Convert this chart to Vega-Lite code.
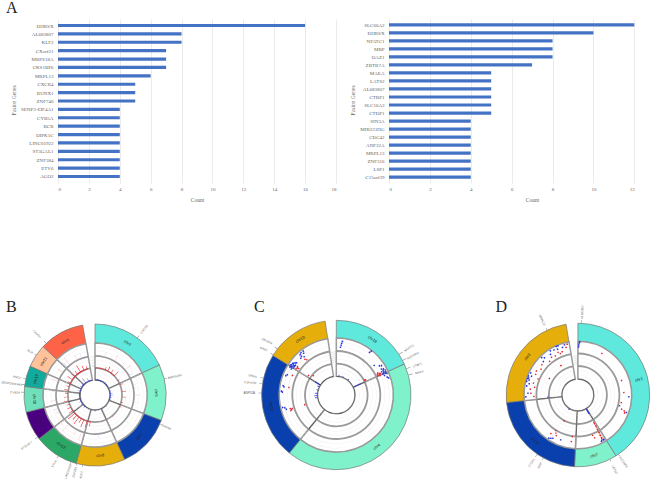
{
"$schema":"https://vega.github.io/schema/vega-lite/v6.json",
"padding":0,
"background":"white",
"config":{"view":{"stroke":null},"font":"Liberation Serif","title":{"font":"Liberation Serif","fontSize":16,"fontWeight":"normal","color":"#222222","anchor":"start"},
"axisX":{"grid":true,"gridColor":"#E6E6E6","gridWidth":0.8,"domain":false,"ticks":false,"labelFont":"Liberation Serif","labelFontSize":5,"labelColor":"#666666","labelPadding":3,"titleFont":"Liberation Serif","titleFontSize":5.5,"titleColor":"#666666","titleFontWeight":"normal","tickCount":10},
"axisY":{"grid":false,"domain":false,"ticks":false,"labelFont":"Liberation Serif","labelFontSize":5,"labelColor":"#666666","labelPadding":5,"titleFont":"Liberation Serif","titleFontSize":5.5,"titleColor":"#666666","titleFontWeight":"normal"}},
"datasets":{
"left":[{"gene":"DHRSX","count":16},{"gene":"AL683807","count":8},{"gene":"KLF2","count":8},{"gene":"CXorf21","count":7},{"gene":"MRPS18A","count":7},{"gene":"CKS1BP6","count":7},{"gene":"MRPL13","count":6},{"gene":"CXCR4","count":5},{"gene":"RUNX1","count":5},{"gene":"ZNF740","count":5},{"gene":"SENP3-EIF4A1","count":4},{"gene":"CYB5A","count":4},{"gene":"BCR","count":4},{"gene":"DIPK1C","count":4},{"gene":"LINC01922","count":4},{"gene":"ST3GAL1","count":4},{"gene":"ZNF384","count":4},{"gene":"ETV6","count":4},{"gene":"AGO2","count":4}],
"right":[{"gene":"SLC66A2","count":12},{"gene":"DHRSX","count":10},{"gene":"NFATC1","count":8},{"gene":"MBP","count":8},{"gene":"OAZ1","count":8},{"gene":"ZBTB7A","count":7},{"gene":"MAEA","count":5},{"gene":"LATS2","count":5},{"gene":"AL683807","count":5},{"gene":"CTBP1","count":5},{"gene":"SLC16A3","count":5},{"gene":"CTDP1","count":5},{"gene":"SIN3A","count":4},{"gene":"MIR223HG","count":4},{"gene":"CDC42","count":4},{"gene":"ANP32A","count":4},{"gene":"MRPL13","count":4},{"gene":"ZNF316","count":4},{"gene":"LSP1","count":4},{"gene":"C15orf39","count":4}],
"bS":[{"chr":"chr2","a0":0,"a1":65},{"chr":"chr5","a0":65,"a1":111},{"chr":"chr7","a0":111,"a1":155.4},{"chr":"chr8","a0":155.4,"a1":195.4},{"chr":"chr12","a0":195.4,"a1":232},{"chr":"chr17","a0":232,"a1":256},{"chr":"chr18","a0":256,"a1":277},{"chr":"chr19","a0":277,"a1":294},{"chr":"chr21","a0":294,"a1":313},{"chr":"chrX","a0":313,"a1":350}],
"cS":[{"chr":"chr18","a0":0,"a1":65.6},{"chr":"chr4","a0":65.6,"a1":219},{"chr":"chr15","a0":219,"a1":302},{"chr":"chr19","a0":302,"a1":351.4}],
"dS":[{"chr":"chr1","a0":0,"a1":148},{"chr":"chr7","a0":148,"a1":182.7},{"chr":"chr12","a0":182.7,"a1":264},{"chr":"chr8","a0":264,"a1":350.5}],
"bL":[{"label":"chr2","a":32,"r":61,"rot":32,"kind":"chr"},{"label":"chr5","a":88,"r":61,"rot":88,"kind":"chr"},{"label":"chr7","a":133,"r":61,"rot":-47,"kind":"chr"},{"label":"chr8","a":175,"r":61,"rot":-5,"kind":"chr"},{"label":"chr12","a":214,"r":61,"rot":34,"kind":"chr"},{"label":"chr17","a":244,"r":61,"rot":64,"kind":"chr"},{"label":"chr18","a":266,"r":61,"rot":86,"kind":"chr"},{"label":"chr19","a":285,"r":61,"rot":-75,"kind":"chr"},{"label":"chr21","a":303,"r":61,"rot":-57,"kind":"chr"},{"label":"chrX","a":331,"r":61,"rot":-29,"kind":"chr"},
{"label":"CXCR4","a":36.6,"r":82,"rot":-53,"kind":"gene"},{"label":"MRPS18A","a":76.8,"r":82,"rot":-13,"kind":"gene"},{"label":"DHRSX","a":114,"r":78,"rot":24,"kind":"gene"},{"label":"ETV6","a":211,"r":80,"rot":-59,"kind":"gene"},{"label":"LINC01922","a":199.6,"r":81,"rot":-70,"kind":"gene"},{"label":"ZNF384","a":195,"r":80,"rot":-75,"kind":"gene"},{"label":"KLF2","a":190,"r":81,"rot":-80,"kind":"gene"},{"label":"ST3GAL1","a":233.8,"r":85,"rot":-36,"kind":"gene"},{"label":"CYB5A","a":272,"r":80,"rot":2,"kind":"gene"},{"label":"SENP3-EIF4A1","a":278,"r":84,"rot":8,"kind":"gene"},{"label":"AGO2","a":283,"r":80,"rot":13,"kind":"gene"},{"label":"BCR","a":304,"r":78,"rot":34,"kind":"gene"},{"label":"CXorf21","a":316.6,"r":84,"rot":46,"kind":"gene"}],
"cL":[{"label":"chr18","a":33,"r":66,"rot":33,"kind":"chr"},{"label":"chr4","a":142,"r":66,"rot":-38,"kind":"chr"},{"label":"chr15","a":260,"r":66,"rot":80,"kind":"chr"},{"label":"chr19","a":327,"r":66,"rot":-33,"kind":"chr"},
{"label":"NFATC1","a":57,"r":86.7,"rot":-33,"kind":"gene"},{"label":"SLC66A2","a":62.5,"r":86,"rot":-28,"kind":"gene"},{"label":"CTBP1","a":69.5,"r":86.5,"rot":-20,"kind":"gene"},{"label":"MAEA","a":74.5,"r":86,"rot":-15,"kind":"gene"},{"label":"SIN3A","a":283,"r":86,"rot":13,"kind":"gene"},{"label":"C15orf39","a":278.4,"r":87,"rot":5,"kind":"gene"},{"label":"ANP32A","a":271.5,"r":87,"rot":0,"kind":"gene"},{"label":"OAZ1","a":302.6,"r":86,"rot":22,"kind":"gene"},{"label":"ZBTB7A","a":308,"r":87.6,"rot":25,"kind":"gene"}],
"dL":[{"label":"chr1","a":76,"r":63,"rot":-14,"kind":"chr"},{"label":"chr7","a":165,"r":63,"rot":-15,"kind":"chr"},{"label":"chr12","a":223,"r":63,"rot":43,"kind":"chr"},{"label":"chr8","a":307,"r":63,"rot":-53,"kind":"chr"},
{"label":"AL683807","a":2.8,"r":83,"rot":-87,"kind":"gene"},{"label":"MRPL13","a":334.6,"r":83,"rot":65,"kind":"gene"},{"label":"SLC16A3","a":145.6,"r":81,"rot":56,"kind":"gene"},{"label":"LATS2","a":153.6,"r":83,"rot":64,"kind":"gene"},{"label":"CTDP1","a":214.5,"r":82,"rot":-55,"kind":"gene"},{"label":"MBP","a":208.7,"r":80,"rot":-61,"kind":"gene"}],
"bT":[{"a0":0,"a1":350,"r0":26.2,"r1":27.9,"t":"ring"},{"a0":0,"a1":350,"r0":38.2,"r1":39.9,"t":"ring"},{"a0":0,"a1":350,"r0":14.8,"r1":15.2,"t":"divider"},
{"a0":0,"a1":350,"r0":19,"r1":19.25,"t":"grid"},{"a0":0,"a1":350,"r0":23,"r1":23.25,"t":"grid"},{"a0":0,"a1":350,"r0":31,"r1":31.25,"t":"grid"},{"a0":0,"a1":350,"r0":35,"r1":35.25,"t":"grid"},{"a0":0,"a1":350,"r0":44,"r1":44.25,"t":"grid"},{"a0":0,"a1":350,"r0":48,"r1":48.25,"t":"grid"},
{"a0":0,"a1":0.7,"r0":15,"r1":27,"t":"divider"},{"a0":64.6,"a1":65.4,"r0":15,"r1":28,"t":"divider"},{"a0":110.6,"a1":111.4,"r0":15,"r1":28,"t":"divider"},{"a0":155,"a1":155.8,"r0":15,"r1":28,"t":"divider"},{"a0":195,"a1":195.8,"r0":15,"r1":28,"t":"divider"},{"a0":231.6,"a1":232.4,"r0":15,"r1":28,"t":"divider"},{"a0":255.6,"a1":256.4,"r0":15,"r1":28,"t":"divider"},{"a0":276.6,"a1":277.4,"r0":15,"r1":28,"t":"divider"},{"a0":293.6,"a1":294.4,"r0":15,"r1":28,"t":"divider"},{"a0":312.6,"a1":313.4,"r0":15,"r1":28,"t":"divider"},
{"a0":354,"a1":360,"r0":29,"r1":29.3,"t":"ring"},{"a0":354,"a1":360,"r0":32,"r1":32.3,"t":"ring"},{"a0":354,"a1":360,"r0":35,"r1":35.3,"t":"ring"},{"a0":354,"a1":360,"r0":38,"r1":38.3,"t":"ring"},
{"a0":0,"a1":45,"r0":27,"r1":27.6,"t":"gain"},{"a0":190,"a1":240,"r0":27,"r1":27.6,"t":"gain"},{"a0":290,"a1":345,"r0":27,"r1":27.6,"t":"gain"},
{"a0":0,"a1":60,"r0":15.2,"r1":15.7,"t":"loss"},{"a0":75,"a1":110,"r0":15.2,"r1":15.7,"t":"loss"},{"a0":220,"a1":345,"r0":15.2,"r1":15.7,"t":"loss"}],
"bH":[
{"a0":7.5,"a1":8.5,"r0":15,"r1":16.5,"t":"loss"},{"a0":19.5,"a1":20.5,"r0":15,"r1":16,"t":"loss"},{"a0":39.5,"a1":40.5,"r0":15,"r1":16.5,"t":"loss"},{"a0":54.5,"a1":55.5,"r0":15,"r1":16,"t":"loss"},{"a0":74.5,"a1":75.5,"r0":15,"r1":17,"t":"loss"},{"a0":84.5,"a1":85.5,"r0":15,"r1":17.5,"t":"loss"},{"a0":91.5,"a1":92.5,"r0":15,"r1":18,"t":"loss"},{"a0":99.5,"a1":100.5,"r0":15,"r1":17,"t":"loss"},{"a0":106.5,"a1":107.5,"r0":15,"r1":16.5,"t":"loss"},{"a0":119.5,"a1":120.5,"r0":15,"r1":16,"t":"loss"},{"a0":134.5,"a1":135.5,"r0":15,"r1":16.5,"t":"loss"},{"a0":149.5,"a1":150.5,"r0":15,"r1":16,"t":"loss"},{"a0":167.5,"a1":168.5,"r0":15,"r1":16,"t":"loss"},{"a0":179.5,"a1":180.5,"r0":15,"r1":17,"t":"loss"},{"a0":191.5,"a1":192.5,"r0":15,"r1":16,"t":"loss"},{"a0":204.5,"a1":205.5,"r0":15,"r1":16.5,"t":"loss"},{"a0":221.5,"a1":222.5,"r0":15,"r1":17,"t":"loss"},{"a0":234.5,"a1":235.5,"r0":15,"r1":16.5,"t":"loss"},{"a0":244.5,"a1":245.5,"r0":15,"r1":17.5,"t":"loss"},{"a0":257.5,"a1":258.5,"r0":15,"r1":17,"t":"loss"},{"a0":269.5,"a1":270.5,"r0":15,"r1":16.5,"t":"loss"},{"a0":284.5,"a1":285.5,"r0":15,"r1":18,"t":"loss"},{"a0":299.5,"a1":300.5,"r0":15,"r1":17,"t":"loss"},{"a0":309.5,"a1":310.5,"r0":15,"r1":17.5,"t":"loss"},{"a0":322,"a1":323,"r0":15,"r1":21,"t":"loss"},{"a0":334.5,"a1":335.5,"r0":15,"r1":18,"t":"loss"},
{"a0":11.5,"a1":12.5,"r0":27,"r1":28,"t":"gain"},{"a0":21.5,"a1":22.5,"r0":27,"r1":30,"t":"gain"},{"a0":27.5,"a1":28.5,"r0":27,"r1":32,"t":"gain"},{"a0":35.5,"a1":36.5,"r0":27,"r1":31,"t":"gain"},{"a0":44.5,"a1":45.5,"r0":27,"r1":33,"t":"gain"},{"a0":57.5,"a1":58.5,"r0":27,"r1":29,"t":"gain"},{"a0":67.5,"a1":68.5,"r0":27,"r1":30,"t":"gain"},{"a0":82.5,"a1":83.5,"r0":27,"r1":31,"t":"gain"},{"a0":93.5,"a1":94.5,"r0":27,"r1":31,"t":"gain"},{"a0":104.5,"a1":105.5,"r0":27,"r1":29,"t":"gain"},{"a0":114.5,"a1":115.5,"r0":27,"r1":29,"t":"gain"},{"a0":139.5,"a1":140.5,"r0":27,"r1":28,"t":"gain"},{"a0":164.5,"a1":165.5,"r0":27,"r1":28,"t":"gain"},{"a0":189.5,"a1":190.5,"r0":27,"r1":32,"t":"gain"},{"a0":196.5,"a1":197.5,"r0":27,"r1":34,"t":"gain"},{"a0":203.5,"a1":204.5,"r0":27,"r1":35,"t":"gain"},{"a0":209.5,"a1":210.5,"r0":27,"r1":32,"t":"gain"},{"a0":215.5,"a1":216.5,"r0":27,"r1":36,"t":"gain"},{"a0":221.5,"a1":222.5,"r0":27,"r1":33,"t":"gain"},{"a0":227.5,"a1":228.5,"r0":27,"r1":36,"t":"gain"},{"a0":234.5,"a1":235.5,"r0":27,"r1":32,"t":"gain"},{"a0":242.5,"a1":243.5,"r0":27,"r1":31,"t":"gain"},{"a0":249.5,"a1":250.5,"r0":27,"r1":30,"t":"gain"},{"a0":257.5,"a1":258.5,"r0":27,"r1":32,"t":"gain"},{"a0":265.5,"a1":266.5,"r0":27,"r1":31,"t":"gain"},{"a0":272.5,"a1":273.5,"r0":27,"r1":30,"t":"gain"},{"a0":279.5,"a1":280.5,"r0":27,"r1":31,"t":"gain"},{"a0":287.5,"a1":288.5,"r0":27,"r1":30,"t":"gain"},{"a0":295.5,"a1":296.5,"r0":27,"r1":30,"t":"gain"},{"a0":303.5,"a1":304.5,"r0":27,"r1":33,"t":"gain"},{"a0":311.5,"a1":312.5,"r0":27,"r1":32,"t":"gain"},{"a0":319.5,"a1":320.5,"r0":27,"r1":31,"t":"gain"},{"a0":327.5,"a1":328.5,"r0":27,"r1":35,"t":"gain"},{"a0":335.5,"a1":336.5,"r0":27,"r1":32,"t":"gain"},{"a0":342.5,"a1":343.5,"r0":27,"r1":30,"t":"gain"},
{"a0":29.7,"a1":30.3,"r0":39.6,"r1":46,"t":"faintGain"},{"a0":41.7,"a1":42.3,"r0":39.6,"r1":44,"t":"faintGain"},{"a0":49.7,"a1":50.3,"r0":39.6,"r1":47,"t":"faintGain"},{"a0":74.7,"a1":75.3,"r0":39.6,"r1":43,"t":"faintGain"},{"a0":89.7,"a1":90.3,"r0":39.6,"r1":45,"t":"faintGain"},{"a0":99.7,"a1":100.3,"r0":39.6,"r1":44,"t":"faintGain"},{"a0":199.7,"a1":200.3,"r0":39.6,"r1":48,"t":"faintGain"},{"a0":207.7,"a1":208.3,"r0":39.6,"r1":45,"t":"faintGain"},{"a0":221.7,"a1":222.3,"r0":39.6,"r1":49,"t":"faintGain"},{"a0":229.7,"a1":230.3,"r0":39.6,"r1":46,"t":"faintGain"},{"a0":244.7,"a1":245.3,"r0":39.6,"r1":43,"t":"faintGain"},{"a0":261.7,"a1":262.3,"r0":39.6,"r1":45,"t":"faintGain"},{"a0":274.7,"a1":275.3,"r0":39.6,"r1":43,"t":"faintGain"},{"a0":289.7,"a1":290.3,"r0":39.6,"r1":47,"t":"faintGain"},{"a0":304.7,"a1":305.3,"r0":39.6,"r1":45,"t":"faintGain"},{"a0":319.7,"a1":320.3,"r0":39.6,"r1":48,"t":"faintGain"},{"a0":332.7,"a1":333.3,"r0":39.6,"r1":45,"t":"faintGain"},
{"a0":14.7,"a1":15.3,"r0":39.6,"r1":44,"t":"faintLoss"},{"a0":59.7,"a1":60.3,"r0":39.6,"r1":43,"t":"faintLoss"},{"a0":79.7,"a1":80.3,"r0":39.6,"r1":44,"t":"faintLoss"},{"a0":129.7,"a1":130.3,"r0":39.6,"r1":43,"t":"faintLoss"},{"a0":174.7,"a1":175.3,"r0":39.6,"r1":43,"t":"faintLoss"},{"a0":249.7,"a1":250.3,"r0":39.6,"r1":44,"t":"faintLoss"},{"a0":314.7,"a1":315.3,"r0":39.6,"r1":46,"t":"faintLoss"},{"a0":339.7,"a1":340.3,"r0":39.6,"r1":44,"t":"faintLoss"},
{"a0":36.4,"a1":36.8,"r0":71,"r1":74,"t":"connector"},{"a0":76.6,"a1":77,"r0":71,"r1":74,"t":"connector"},{"a0":113.8,"a1":114.2,"r0":71,"r1":73,"t":"connector"},{"a0":210.8,"a1":211.2,"r0":71,"r1":74,"t":"connector"},{"a0":199.4,"a1":199.8,"r0":71,"r1":74,"t":"connector"},{"a0":194.8,"a1":195.2,"r0":71,"r1":73,"t":"connector"},{"a0":189.8,"a1":190.2,"r0":71,"r1":73,"t":"connector"},{"a0":233.6,"a1":234,"r0":71,"r1":74,"t":"connector"},{"a0":272,"a1":272.5,"r0":71,"r1":74,"t":"connector"},{"a0":278,"a1":278.5,"r0":71,"r1":74,"t":"connector"},{"a0":283,"a1":283.5,"r0":71,"r1":74,"t":"connector"},{"a0":304,"a1":304.4,"r0":71,"r1":73,"t":"connector"},{"a0":316.4,"a1":316.8,"r0":71,"r1":74,"t":"connector"}],
"cT":[{"a0":0,"a1":351.4,"r0":30.4,"r1":32.2,"t":"ring"},{"a0":0,"a1":351.4,"r0":43.1,"r1":44.9,"t":"ring"},{"a0":0,"a1":351.4,"r0":18.5,"r1":18.9,"t":"divider"},
{"a0":0,"a1":351.4,"r0":23,"r1":23.25,"t":"grid"},{"a0":0,"a1":351.4,"r0":27,"r1":27.25,"t":"grid"},{"a0":0,"a1":351.4,"r0":36,"r1":36.25,"t":"grid"},{"a0":0,"a1":351.4,"r0":40,"r1":40.25,"t":"grid"},{"a0":0,"a1":351.4,"r0":48.5,"r1":48.75,"t":"grid"},{"a0":0,"a1":351.4,"r0":53,"r1":53.25,"t":"grid"},
{"a0":65.2,"a1":66,"r0":18.7,"r1":32,"t":"divider"},{"a0":218.6,"a1":219.4,"r0":18.7,"r1":44,"t":"divider"},{"a0":301.6,"a1":302.4,"r0":18.7,"r1":32,"t":"divider"},
{"a0":353,"a1":360,"r0":33,"r1":33.3,"t":"ring"},{"a0":353,"a1":360,"r0":35,"r1":35.3,"t":"ring"},{"a0":353,"a1":360,"r0":37,"r1":37.3,"t":"ring"},{"a0":353,"a1":360,"r0":39,"r1":39.3,"t":"ring"},{"a0":353,"a1":360,"r0":41,"r1":41.3,"t":"ring"},{"a0":353,"a1":360,"r0":43,"r1":43.3,"t":"ring"},
{"a0":64.2,"a1":66.2,"r0":19,"r1":27,"t":"loss"},{"a0":300.8,"a1":303.2,"r0":19,"r1":25,"t":"loss"}],
"cH":[
{"a0":4.6,"a1":6.4,"r0":49.3,"r1":50.7,"t":"loss"},{"a0":5.1,"a1":6.9,"r0":51.3,"r1":52.7,"t":"loss"},{"a0":5.6,"a1":7.4,"r0":53.3,"r1":54.7,"t":"loss"},{"a0":4.1,"a1":5.9,"r0":47.3,"r1":48.7,"t":"loss"},{"a0":37.1,"a1":38.9,"r0":53.3,"r1":54.7,"t":"loss"},{"a0":37.6,"a1":39.4,"r0":55.3,"r1":56.7,"t":"loss"},{"a0":51.1,"a1":52.9,"r0":47.3,"r1":48.7,"t":"loss"},{"a0":56.1,"a1":57.9,"r0":53.3,"r1":54.7,"t":"loss"},{"a0":55.1,"a1":56.9,"r0":51.3,"r1":52.7,"t":"loss"},
{"a0":59.1,"a1":60.9,"r0":51.3,"r1":52.7,"t":"loss"},{"a0":60.1,"a1":61.9,"r0":53.3,"r1":54.7,"t":"loss"},{"a0":61.1,"a1":62.9,"r0":52.3,"r1":53.7,"t":"loss"},{"a0":62.1,"a1":63.9,"r0":50.3,"r1":51.7,"t":"loss"},{"a0":62.1,"a1":63.9,"r0":54.3,"r1":55.7,"t":"loss"},{"a0":63.1,"a1":64.9,"r0":52.3,"r1":53.7,"t":"loss"},{"a0":64.1,"a1":65.9,"r0":51.3,"r1":52.7,"t":"loss"},{"a0":64.1,"a1":65.9,"r0":53.8,"r1":55.2,"t":"loss"},{"a0":65.1,"a1":66.9,"r0":50.3,"r1":51.7,"t":"loss"},{"a0":65.1,"a1":66.9,"r0":52.8,"r1":54.2,"t":"loss"},{"a0":66.1,"a1":67.9,"r0":54.3,"r1":55.7,"t":"loss"},{"a0":67.1,"a1":68.9,"r0":51.3,"r1":52.7,"t":"loss"},{"a0":69.8,"a1":71.6,"r0":53.3,"r1":54.7,"t":"loss"},{"a0":71.1,"a1":72.9,"r0":54.3,"r1":55.7,"t":"loss"},
{"a0":61.1,"a1":62.9,"r0":46.3,"r1":47.7,"t":"gain"},{"a0":62.1,"a1":63.9,"r0":45.3,"r1":46.7,"t":"gain"},{"a0":62.6,"a1":64.4,"r0":47.3,"r1":48.7,"t":"gain"},{"a0":63.1,"a1":64.9,"r0":48.3,"r1":49.7,"t":"gain"},{"a0":63.6,"a1":65.4,"r0":45.3,"r1":46.7,"t":"gain"},{"a0":64.1,"a1":65.9,"r0":46.8,"r1":48.2,"t":"gain"},{"a0":64.6,"a1":66.4,"r0":44.8,"r1":46.2,"t":"gain"},{"a0":65.1,"a1":66.9,"r0":47.3,"r1":48.7,"t":"gain"},{"a0":60.6,"a1":63.4,"r0":31.3,"r1":32.7,"t":"gain"},{"a0":61.1,"a1":63.9,"r0":32.3,"r1":33.7,"t":"gain"},
{"a0":299.1,"a1":300.9,"r0":51.3,"r1":52.7,"t":"loss"},{"a0":300.1,"a1":301.9,"r0":53.3,"r1":54.7,"t":"loss"},{"a0":301.1,"a1":302.9,"r0":50.3,"r1":51.7,"t":"loss"},{"a0":301.1,"a1":302.9,"r0":52.3,"r1":53.7,"t":"loss"},{"a0":302.1,"a1":303.9,"r0":54.3,"r1":55.7,"t":"loss"},{"a0":302.6,"a1":304.4,"r0":51.3,"r1":52.7,"t":"loss"},{"a0":303.1,"a1":304.9,"r0":49.8,"r1":51.2,"t":"loss"},{"a0":303.1,"a1":304.9,"r0":53.3,"r1":54.7,"t":"loss"},{"a0":304.1,"a1":305.9,"r0":51.8,"r1":53.2,"t":"loss"},{"a0":304.1,"a1":305.9,"r0":50.3,"r1":51.7,"t":"loss"},{"a0":305.1,"a1":306.9,"r0":53.3,"r1":54.7,"t":"loss"},{"a0":305.1,"a1":306.9,"r0":49.8,"r1":51.2,"t":"loss"},{"a0":306.1,"a1":307.9,"r0":52.3,"r1":53.7,"t":"loss"},{"a0":307.1,"a1":308.9,"r0":51.3,"r1":52.7,"t":"loss"},{"a0":308.1,"a1":309.9,"r0":50.3,"r1":51.7,"t":"loss"},
{"a0":315.1,"a1":316.9,"r0":50.3,"r1":51.7,"t":"loss"},{"a0":317.1,"a1":318.9,"r0":53.3,"r1":54.7,"t":"loss"},{"a0":317.1,"a1":318.9,"r0":51.3,"r1":52.7,"t":"loss"},{"a0":319.1,"a1":320.9,"r0":54.3,"r1":55.7,"t":"loss"},{"a0":319.1,"a1":320.9,"r0":49.3,"r1":50.7,"t":"loss"},{"a0":321.1,"a1":322.9,"r0":52.3,"r1":53.7,"t":"loss"},{"a0":322.1,"a1":323.9,"r0":54.3,"r1":55.7,"t":"loss"},{"a0":291.6,"a1":293.4,"r0":52.3,"r1":53.7,"t":"loss"},{"a0":290.1,"a1":291.9,"r0":53.3,"r1":54.7,"t":"loss"},{"a0":279.1,"a1":280.9,"r0":53.3,"r1":54.7,"t":"loss"},{"a0":278.1,"a1":279.9,"r0":52.3,"r1":53.7,"t":"loss"},{"a0":273.1,"a1":274.9,"r0":54.3,"r1":55.7,"t":"loss"},{"a0":272.1,"a1":273.9,"r0":53.3,"r1":54.7,"t":"loss"},{"a0":255.1,"a1":256.9,"r0":52.3,"r1":53.7,"t":"loss"},{"a0":256.1,"a1":257.9,"r0":54.3,"r1":55.7,"t":"loss"},{"a0":253.1,"a1":254.9,"r0":51.3,"r1":52.7,"t":"loss"},
{"a0":303.8,"a1":305.6,"r0":46.7,"r1":48.1,"t":"gain"},{"a0":304.1,"a1":305.9,"r0":45.3,"r1":46.7,"t":"gain"},{"a0":302.1,"a1":303.9,"r0":47.3,"r1":48.7,"t":"gain"},{"a0":305.1,"a1":306.9,"r0":47.3,"r1":48.7,"t":"gain"},{"a0":317.8,"a1":319.6,"r0":46.8,"r1":48.2,"t":"gain"},{"a0":319.1,"a1":320.9,"r0":45.3,"r1":46.7,"t":"gain"},{"a0":293.1,"a1":294.9,"r0":47.3,"r1":48.7,"t":"gain"},{"a0":278.1,"a1":279.9,"r0":47.3,"r1":48.7,"t":"gain"},{"a0":252.7,"a1":254.5,"r0":47.3,"r1":48.7,"t":"gain"},{"a0":252.1,"a1":253.9,"r0":45.3,"r1":46.7,"t":"gain"},{"a0":251.1,"a1":252.9,"r0":46.3,"r1":47.7,"t":"gain"},{"a0":250.1,"a1":251.9,"r0":47.3,"r1":48.7,"t":"gain"},{"a0":251.6,"a1":254.4,"r0":32.3,"r1":33.7,"t":"gain"},{"a0":303.6,"a1":306.4,"r0":33.3,"r1":34.7,"t":"gain"},{"a0":308.6,"a1":311.4,"r0":29.3,"r1":30.7,"t":"gain"},
{"a0":295,"a1":297,"r0":19,"r1":21,"t":"loss"},{"a0":284,"a1":286,"r0":19,"r1":20.5,"t":"loss"},{"a0":274,"a1":276,"r0":19,"r1":21.5,"t":"loss"},{"a0":267,"a1":269,"r0":19,"r1":22,"t":"loss"},{"a0":261,"a1":263,"r0":19,"r1":21.5,"t":"loss"},{"a0":37,"a1":39,"r0":19,"r1":20.5,"t":"loss"},{"a0":19,"a1":21,"r0":19,"r1":20,"t":"loss"},{"a0":7,"a1":9,"r0":19,"r1":20.5,"t":"loss"},
{"a0":56.8,"a1":57.2,"r0":74.7,"r1":79,"t":"connector"},{"a0":62.3,"a1":62.7,"r0":74.7,"r1":79,"t":"connector"},{"a0":69.3,"a1":69.7,"r0":74.7,"r1":79,"t":"connector"},{"a0":74.3,"a1":74.7,"r0":74.7,"r1":79,"t":"connector"},{"a0":282.8,"a1":283.2,"r0":74.7,"r1":78,"t":"connector"},{"a0":278.2,"a1":278.6,"r0":74.7,"r1":78,"t":"connector"},{"a0":271.3,"a1":271.7,"r0":74.7,"r1":78,"t":"connector"},{"a0":302.4,"a1":302.8,"r0":74.7,"r1":78,"t":"connector"},{"a0":307.8,"a1":308.2,"r0":74.7,"r1":78,"t":"connector"}],
"dT":[{"a0":0,"a1":350.5,"r0":28.1,"r1":29.9,"t":"ring"},{"a0":0,"a1":350.5,"r0":40.6,"r1":42.4,"t":"ring"},{"a0":0,"a1":350.5,"r0":15.8,"r1":16.2,"t":"divider"},
{"a0":0,"a1":350.5,"r0":20,"r1":20.25,"t":"grid"},{"a0":0,"a1":350.5,"r0":24.5,"r1":24.75,"t":"grid"},{"a0":0,"a1":350.5,"r0":33,"r1":33.25,"t":"grid"},{"a0":0,"a1":350.5,"r0":37,"r1":37.25,"t":"grid"},
{"a0":147.6,"a1":148.4,"r0":16,"r1":29,"t":"divider"},{"a0":182.3,"a1":183.1,"r0":16,"r1":41,"t":"divider"},{"a0":263.6,"a1":264.4,"r0":16,"r1":41,"t":"divider"},
{"a0":353,"a1":360,"r0":31,"r1":31.3,"t":"ring"},{"a0":353,"a1":360,"r0":33,"r1":33.3,"t":"ring"},{"a0":353,"a1":360,"r0":35,"r1":35.3,"t":"ring"},{"a0":353,"a1":360,"r0":37,"r1":37.3,"t":"ring"},{"a0":353,"a1":360,"r0":39,"r1":39.3,"t":"ring"}],
"dH":[
{"a0":0.1,"a1":1.9,"r0":49.3,"r1":50.7,"t":"loss"},{"a0":0.6,"a1":2.4,"r0":51.3,"r1":52.7,"t":"loss"},{"a0":0,"a1":1.7,"r0":47.3,"r1":48.7,"t":"loss"},{"a0":1.1,"a1":2.9,"r0":52.3,"r1":53.7,"t":"loss"},
{"a0":344.1,"a1":345.9,"r0":51.3,"r1":52.7,"t":"loss"},{"a0":341.1,"a1":342.9,"r0":49.3,"r1":50.7,"t":"loss"},{"a0":337.1,"a1":338.9,"r0":52.3,"r1":53.7,"t":"loss"},{"a0":335.1,"a1":336.9,"r0":52.3,"r1":53.7,"t":"loss"},{"a0":335.1,"a1":336.9,"r0":49.3,"r1":50.7,"t":"loss"},{"a0":331.1,"a1":332.9,"r0":50.3,"r1":51.7,"t":"loss"},{"a0":327.1,"a1":328.9,"r0":51.3,"r1":52.7,"t":"loss"},{"a0":325.1,"a1":326.9,"r0":48.3,"r1":49.7,"t":"loss"},{"a0":317.1,"a1":318.9,"r0":49.3,"r1":50.7,"t":"loss"},{"a0":315.1,"a1":316.9,"r0":51.3,"r1":52.7,"t":"loss"},{"a0":313.1,"a1":314.9,"r0":47.3,"r1":48.7,"t":"loss"},{"a0":294.1,"a1":295.9,"r0":51.3,"r1":52.7,"t":"loss"},{"a0":291.1,"a1":292.9,"r0":49.3,"r1":50.7,"t":"loss"},{"a0":290.1,"a1":291.9,"r0":52.3,"r1":53.7,"t":"loss"},{"a0":288.1,"a1":289.9,"r0":51.3,"r1":52.7,"t":"loss"},{"a0":287.1,"a1":288.9,"r0":52.3,"r1":53.7,"t":"loss"},{"a0":286.1,"a1":287.9,"r0":50.3,"r1":51.7,"t":"loss"},{"a0":284.1,"a1":285.9,"r0":52.3,"r1":53.7,"t":"loss"},{"a0":282.1,"a1":283.9,"r0":49.3,"r1":50.7,"t":"loss"},{"a0":279.1,"a1":280.9,"r0":51.3,"r1":52.7,"t":"loss"},{"a0":271.1,"a1":272.9,"r0":49.3,"r1":50.7,"t":"loss"},{"a0":267.1,"a1":268.9,"r0":51.3,"r1":52.7,"t":"loss"},
{"a0":347.1,"a1":348.9,"r0":51.3,"r1":52.7,"t":"gain"},{"a0":345.1,"a1":346.9,"r0":48.3,"r1":49.7,"t":"gain"},{"a0":339.1,"a1":340.9,"r0":45.3,"r1":46.7,"t":"gain"},{"a0":336.1,"a1":337.9,"r0":44.3,"r1":45.7,"t":"gain"},{"a0":334.1,"a1":335.9,"r0":46.3,"r1":47.7,"t":"gain"},{"a0":329.1,"a1":330.9,"r0":44.3,"r1":45.7,"t":"gain"},{"a0":324.1,"a1":325.9,"r0":45.3,"r1":46.7,"t":"gain"},{"a0":319.1,"a1":320.9,"r0":43.3,"r1":44.7,"t":"gain"},{"a0":309.1,"a1":310.9,"r0":46.3,"r1":47.7,"t":"gain"},{"a0":304.1,"a1":305.9,"r0":44.3,"r1":45.7,"t":"gain"},{"a0":299.1,"a1":300.9,"r0":47.3,"r1":48.7,"t":"gain"},{"a0":295.1,"a1":296.9,"r0":46.3,"r1":47.7,"t":"gain"},{"a0":291.1,"a1":292.9,"r0":42.3,"r1":43.7,"t":"gain"},{"a0":284.1,"a1":285.9,"r0":45.3,"r1":46.7,"t":"gain"},{"a0":279.1,"a1":280.9,"r0":43.3,"r1":44.7,"t":"gain"},{"a0":276.1,"a1":277.9,"r0":47.3,"r1":48.7,"t":"gain"},{"a0":271.1,"a1":272.9,"r0":46.3,"r1":47.7,"t":"gain"},{"a0":267.1,"a1":268.9,"r0":43.3,"r1":44.7,"t":"gain"},{"a0":328.6,"a1":331.4,"r0":33.3,"r1":34.7,"t":"gain"},{"a0":298.6,"a1":301.4,"r0":32.3,"r1":33.7,"t":"gain"},
{"a0":70.7,"a1":72.5,"r0":45.3,"r1":46.7,"t":"gain"},{"a0":86.1,"a1":87.9,"r0":45.3,"r1":46.7,"t":"gain"},{"a0":107.1,"a1":108.9,"r0":45.3,"r1":46.7,"t":"gain"},{"a0":108.1,"a1":109.9,"r0":48.3,"r1":49.7,"t":"gain"},{"a0":110.1,"a1":111.9,"r0":49.3,"r1":50.7,"t":"gain"},{"a0":99.1,"a1":100.9,"r0":43.3,"r1":44.7,"t":"gain"},{"a0":29.1,"a1":30.9,"r0":47.3,"r1":48.7,"t":"gain"},
{"a0":91.1,"a1":92.9,"r0":50.3,"r1":51.7,"t":"loss"},{"a0":103.6,"a1":105.4,"r0":42.3,"r1":43.7,"t":"loss"},{"a0":109.1,"a1":110.9,"r0":50.8,"r1":52.2,"t":"loss"},
{"a0":149,"a1":151,"r0":31,"r1":34,"t":"gain"},{"a0":149,"a1":151,"r0":35,"r1":37.5,"t":"gain"},{"a0":149.5,"a1":151.5,"r0":38.5,"r1":41,"t":"gain"},{"a0":149.5,"a1":151.5,"r0":42,"r1":44,"t":"gain"},{"a0":150,"a1":152,"r0":45,"r1":47,"t":"gain"},{"a0":150,"a1":152,"r0":48,"r1":50,"t":"gain"},
{"a0":149,"a1":151,"r0":50.5,"r1":52.5,"t":"loss"},{"a0":151.1,"a1":152.9,"r0":50.3,"r1":51.7,"t":"loss"},{"a0":152.1,"a1":153.9,"r0":51.3,"r1":52.7,"t":"loss"},{"a0":147.5,"a1":151,"r0":16.5,"r1":22,"t":"loss"},
{"a0":157.8,"a1":159.6,"r0":45.3,"r1":46.7,"t":"gain"},{"a0":159.1,"a1":160.9,"r0":42.3,"r1":43.7,"t":"gain"},{"a0":206.6,"a1":209.4,"r0":28.8,"r1":30.2,"t":"gain"},{"a0":209.1,"a1":210.9,"r0":43.3,"r1":44.7,"t":"gain"},{"a0":211.1,"a1":212.9,"r0":41.3,"r1":42.7,"t":"gain"},{"a0":207.1,"a1":208.9,"r0":45.3,"r1":46.7,"t":"gain"},{"a0":186.8,"a1":188.6,"r0":41.3,"r1":42.7,"t":"gain"},{"a0":187.1,"a1":188.9,"r0":46.3,"r1":47.7,"t":"gain"},{"a0":214.1,"a1":215.9,"r0":46.3,"r1":47.7,"t":"gain"},
{"a0":211.1,"a1":212.9,"r0":50.3,"r1":51.7,"t":"loss"},{"a0":213.1,"a1":214.9,"r0":51.3,"r1":52.7,"t":"loss"},{"a0":209.1,"a1":210.9,"r0":49.3,"r1":50.7,"t":"loss"},{"a0":200.1,"a1":201.9,"r0":47.3,"r1":48.7,"t":"loss"},{"a0":210,"a1":214,"r0":16,"r1":17.4,"t":"loss"},{"a0":265,"a1":267,"r0":29.3,"r1":30.7,"t":"loss"},
{"a0":2.6,"a1":3,"r0":71.8,"r1":75,"t":"connector"},{"a0":334.4,"a1":334.8,"r0":71.8,"r1":74,"t":"connector"},{"a0":145.4,"a1":145.8,"r0":71.8,"r1":74,"t":"connector"},{"a0":153.4,"a1":153.8,"r0":71.8,"r1":74,"t":"connector"},{"a0":214.3,"a1":214.7,"r0":71.8,"r1":75,"t":"connector"},{"a0":208.5,"a1":208.9,"r0":71.8,"r1":74,"t":"connector"}]
},
"bounds":"flush",
"spacing":291,
"resolve":{"scale":{"color":"independent"}},
"vconcat":[
{"hconcat":[
{"width":5,"height":164,"title":{"text":"A","offset":3,"dx":6},"data":{"values":[]},"mark":"text","encoding":{}},
{"width":278,"height":164,"data":{"name":"left"},"mark":{"type":"bar","color":"#4472C4"},
"encoding":{"y":{"field":"gene","type":"nominal","sort":null,"title":"Fusion Genes","scale":{"paddingInner":0.62,"paddingOuter":0.585},"axis":{"titleX":-42,"titleY":81}},
"x":{"field":"count","type":"quantitative","title":"Count","scale":{"domain":[0,18],"nice":false},"axis":{"values":[0,2,4,6,8,10,12,14,16,18],"titleY":14}}}},
{"width":245.3,"height":164,"data":{"name":"right"},"mark":{"type":"bar","color":"#4472C4"},
"encoding":{"y":{"field":"gene","type":"nominal","sort":null,"title":"Fusion Genes","scale":{"paddingInner":0.6,"paddingOuter":0.52},"axis":{"titleX":-34,"titleY":81}},
"x":{"field":"count","type":"quantitative","title":"Count","scale":{"domain":[0,12],"nice":false},"axis":{"values":[0,2,4,6,8,10,12],"titleX":143,"titleY":14}}}}
],"spacing":53,"bounds":"flush"},
{"resolve":{"scale":{"color":"independent"}},"hconcat":[
{"width":190,"height":170,"title":{"text":"B","offset":-5,"dx":6},
"resolve":{"scale":{"color":"independent"}},
"layer":[
{"data":{"name":"bS"},"mark":{"type":"arc","stroke":"#777777","strokeWidth":0.7},"encoding":{
"theta":{"field":"a0","type":"quantitative","stack":null,"scale":{"domain":[0,360],"range":[0,6.2832]}},"theta2":{"field":"a1"},
"radius":{"datum":52,"type":"quantitative","scale":{"domain":[0,100],"range":[0,100]}},"radius2":{"datum":71},
"color":{"field":"chr","type":"nominal","legend":null,"sort":null,"scale":{"domain":["chr2","chr5","chr7","chr8","chr12","chr17","chr18","chr19","chr21","chrX"],"range":["#5FE8DC","#7FF2CB","#0A40AE","#E5AE0B","#2BA866","#4B0082","#70E0BC","#12AB9B","#FFC29A","#FF6347"]}}}},
{"data":{"name":"bS"},"mark":{"type":"arc","fill":"white","stroke":"#9A9A9A","strokeWidth":1.5},"encoding":{
"theta":{"field":"a0","type":"quantitative","stack":null,"scale":{"domain":[0,360],"range":[0,6.2832]}},"theta2":{"field":"a1"},
"radius":{"datum":15,"type":"quantitative","scale":{"domain":[0,100],"range":[0,100]}},"radius2":{"datum":52}}},
{"data":{"name":"bT"},"mark":{"type":"arc"},"encoding":{
"theta":{"field":"a0","type":"quantitative","stack":null,"scale":{"domain":[0,360],"range":[0,6.2832]}},"theta2":{"field":"a1"},
"radius":{"field":"r0","type":"quantitative","scale":{"domain":[0,100],"range":[0,100]}},"radius2":{"field":"r1"},
"color":{"field":"t","type":"nominal","legend":null,"scale":{"domain":["ring","divider","gain","loss","faintGain","faintLoss","connector","grid"],"range":["#9A9A9A","#333333","#E8232A","#2233DD","#FFC4C4","#CDD2FA","#888888","#E2E2E2"]}}}},
{"data":{"name":"bH"},"mark":{"type":"arc"},"encoding":{
"theta":{"field":"a0","type":"quantitative","stack":null,"scale":{"domain":[0,360],"range":[0,6.2832]}},"theta2":{"field":"a1"},
"radius":{"field":"r0","type":"quantitative","scale":{"domain":[0,100],"range":[0,100]}},"radius2":{"field":"r1"},
"color":{"field":"t","type":"nominal","legend":null,"scale":{"domain":["ring","divider","gain","loss","faintGain","faintLoss","connector","grid"],"range":["#9A9A9A","#333333","#E8232A","#2233DD","#FFC4C4","#CDD2FA","#888888","#E2E2E2"]}}}},
{"data":{"name":"bL"},"transform":[{"filter":{"field":"kind","equal":"chr"}}],"mark":{"type":"text","font":"Liberation Sans","fontSize":4,"color":"#222222"},"encoding":{"text":{"field":"label"},"theta":{"field":"a","type":"quantitative","stack":null,"scale":{"domain":[0,360],"range":[0,6.2832]}},"radius":{"field":"r","type":"quantitative","scale":{"domain":[0,100],"range":[0,100]}},"angle":{"field":"rot","type":"quantitative","scale":null}}},
{"data":{"name":"bL"},"transform":[{"filter":{"field":"kind","equal":"gene"}}],"mark":{"type":"text","font":"Liberation Sans","fontSize":3,"color":"#666666"},"encoding":{"text":{"field":"label"},"theta":{"field":"a","type":"quantitative","stack":null,"scale":{"domain":[0,360],"range":[0,6.2832]}},"radius":{"field":"r","type":"quantitative","scale":{"domain":[0,100],"range":[0,100]}},"angle":{"field":"rot","type":"quantitative","scale":null}}}
]},
{"resolve":{"scale":{"color":"independent"}},"hconcat":[
{"width":252.6,"height":170,"title":{"text":"C","offset":-5,"dx":44},
"resolve":{"scale":{"color":"independent"}},
"layer":[
{"data":{"name":"cS"},"mark":{"type":"arc","stroke":"#777777","strokeWidth":0.7},"encoding":{
"theta":{"field":"a0","type":"quantitative","stack":null,"scale":{"domain":[0,360],"range":[0,6.2832]}},"theta2":{"field":"a1"},
"radius":{"datum":57,"type":"quantitative","scale":{"domain":[0,100],"range":[0,100]}},"radius2":{"datum":74.7},
"color":{"field":"chr","type":"nominal","legend":null,"sort":null,"scale":{"domain":["chr18","chr4","chr15","chr19"],"range":["#5FE8DC","#7FF2CB","#0A40AE","#E5AE0B"]}}}},
{"data":{"name":"cS"},"mark":{"type":"arc","fill":"white","stroke":"#9A9A9A","strokeWidth":1.5},"encoding":{
"theta":{"field":"a0","type":"quantitative","stack":null,"scale":{"domain":[0,360],"range":[0,6.2832]}},"theta2":{"field":"a1"},
"radius":{"datum":18.7,"type":"quantitative","scale":{"domain":[0,100],"range":[0,100]}},"radius2":{"datum":57}}},
{"data":{"name":"cT"},"mark":{"type":"arc"},"encoding":{
"theta":{"field":"a0","type":"quantitative","stack":null,"scale":{"domain":[0,360],"range":[0,6.2832]}},"theta2":{"field":"a1"},
"radius":{"field":"r0","type":"quantitative","scale":{"domain":[0,100],"range":[0,100]}},"radius2":{"field":"r1"},
"color":{"field":"t","type":"nominal","legend":null,"scale":{"domain":["ring","divider","gain","loss","faintGain","faintLoss","connector","grid"],"range":["#9A9A9A","#333333","#E8232A","#2233DD","#FFC4C4","#CDD2FA","#888888","#E2E2E2"]}}}},
{"data":{"name":"cH"},"mark":{"type":"arc"},"encoding":{
"theta":{"field":"a0","type":"quantitative","stack":null,"scale":{"domain":[0,360],"range":[0,6.2832]}},"theta2":{"field":"a1"},
"radius":{"field":"r0","type":"quantitative","scale":{"domain":[0,100],"range":[0,100]}},"radius2":{"field":"r1"},
"color":{"field":"t","type":"nominal","legend":null,"scale":{"domain":["ring","divider","gain","loss","faintGain","faintLoss","connector","grid"],"range":["#9A9A9A","#333333","#E8232A","#2233DD","#FFC4C4","#CDD2FA","#888888","#E2E2E2"]}}}},
{"data":{"name":"cL"},"transform":[{"filter":{"field":"kind","equal":"chr"}}],"mark":{"type":"text","font":"Liberation Sans","fontSize":4,"color":"#222222"},"encoding":{"text":{"field":"label"},"theta":{"field":"a","type":"quantitative","stack":null,"scale":{"domain":[0,360],"range":[0,6.2832]}},"radius":{"field":"r","type":"quantitative","scale":{"domain":[0,100],"range":[0,100]}},"angle":{"field":"rot","type":"quantitative","scale":null}}},
{"data":{"name":"cL"},"transform":[{"filter":{"field":"kind","equal":"gene"}}],"mark":{"type":"text","font":"Liberation Sans","fontSize":3,"color":"#666666"},"encoding":{"text":{"field":"label"},"theta":{"field":"a","type":"quantitative","stack":null,"scale":{"domain":[0,360],"range":[0,6.2832]}},"radius":{"field":"r","type":"quantitative","scale":{"domain":[0,100],"range":[0,100]}},"angle":{"field":"rot","type":"quantitative","scale":null}}}
]},
{"width":183,"height":170,"title":{"text":"D","offset":-10,"dx":9},
"resolve":{"scale":{"color":"independent"}},
"layer":[
{"data":{"name":"dS"},"mark":{"type":"arc","stroke":"#777777","strokeWidth":0.7},"encoding":{
"theta":{"field":"a0","type":"quantitative","stack":null,"scale":{"domain":[0,360],"range":[0,6.2832]}},"theta2":{"field":"a1"},
"radius":{"datum":53.8,"type":"quantitative","scale":{"domain":[0,100],"range":[0,100]}},"radius2":{"datum":71.8},
"color":{"field":"chr","type":"nominal","legend":null,"sort":null,"scale":{"domain":["chr1","chr7","chr12","chr8"],"range":["#5FE8DC","#7FF2CB","#0A40AE","#E5AE0B"]}}}},
{"data":{"name":"dS"},"mark":{"type":"arc","fill":"white","stroke":"#9A9A9A","strokeWidth":1.5},"encoding":{
"theta":{"field":"a0","type":"quantitative","stack":null,"scale":{"domain":[0,360],"range":[0,6.2832]}},"theta2":{"field":"a1"},
"radius":{"datum":16,"type":"quantitative","scale":{"domain":[0,100],"range":[0,100]}},"radius2":{"datum":53.8}}},
{"data":{"name":"dT"},"mark":{"type":"arc"},"encoding":{
"theta":{"field":"a0","type":"quantitative","stack":null,"scale":{"domain":[0,360],"range":[0,6.2832]}},"theta2":{"field":"a1"},
"radius":{"field":"r0","type":"quantitative","scale":{"domain":[0,100],"range":[0,100]}},"radius2":{"field":"r1"},
"color":{"field":"t","type":"nominal","legend":null,"scale":{"domain":["ring","divider","gain","loss","faintGain","faintLoss","connector","grid"],"range":["#9A9A9A","#333333","#E8232A","#2233DD","#FFC4C4","#CDD2FA","#888888","#E2E2E2"]}}}},
{"data":{"name":"dH"},"mark":{"type":"arc"},"encoding":{
"theta":{"field":"a0","type":"quantitative","stack":null,"scale":{"domain":[0,360],"range":[0,6.2832]}},"theta2":{"field":"a1"},
"radius":{"field":"r0","type":"quantitative","scale":{"domain":[0,100],"range":[0,100]}},"radius2":{"field":"r1"},
"color":{"field":"t","type":"nominal","legend":null,"scale":{"domain":["ring","divider","gain","loss","faintGain","faintLoss","connector","grid"],"range":["#9A9A9A","#333333","#E8232A","#2233DD","#FFC4C4","#CDD2FA","#888888","#E2E2E2"]}}}},
{"data":{"name":"dL"},"transform":[{"filter":{"field":"kind","equal":"chr"}}],"mark":{"type":"text","font":"Liberation Sans","fontSize":4,"color":"#222222"},"encoding":{"text":{"field":"label"},"theta":{"field":"a","type":"quantitative","stack":null,"scale":{"domain":[0,360],"range":[0,6.2832]}},"radius":{"field":"r","type":"quantitative","scale":{"domain":[0,100],"range":[0,100]}},"angle":{"field":"rot","type":"quantitative","scale":null}}},
{"data":{"name":"dL"},"transform":[{"filter":{"field":"kind","equal":"gene"}}],"mark":{"type":"text","font":"Liberation Sans","fontSize":3,"color":"#666666"},"encoding":{"text":{"field":"label"},"theta":{"field":"a","type":"quantitative","stack":null,"scale":{"domain":[0,360],"range":[0,6.2832]}},"radius":{"field":"r","type":"quantitative","scale":{"domain":[0,100],"range":[0,100]}},"angle":{"field":"rot","type":"quantitative","scale":null}}}
]}
],"spacing":23.4,"bounds":"flush"}
],"spacing":20,"bounds":"flush"}
]
}
